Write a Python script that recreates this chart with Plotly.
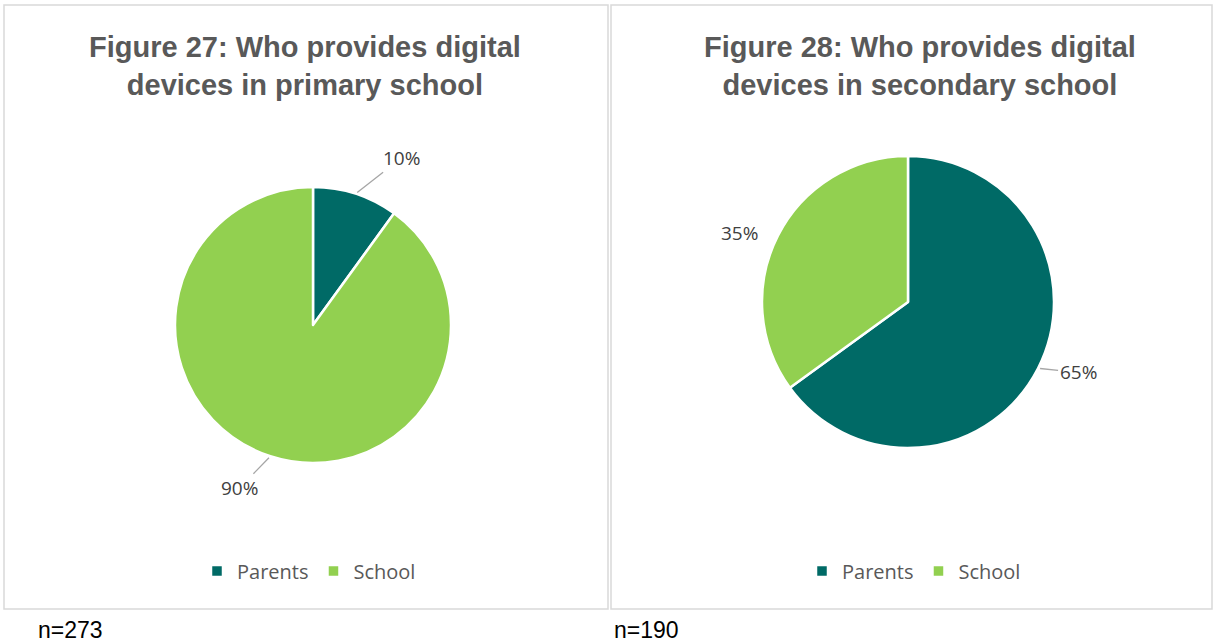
import math
import plotly.graph_objects as go

W, H = 1214, 643

# data
labels = ['Parents', 'School']
primary_values = [10, 90]
secondary_values = [65, 35]
sample_sizes = ['n=273', 'n=190']
titles = ['Figure 27: Who provides digital<br>devices in primary school',
          'Figure 28: Who provides digital<br>devices in secondary school']

colors = ['#006A66', '#92D050']


def px(x):
    return x / W


def py(y):
    return 1 - y / H


# layout of the two chart boxes (pixels)
boxes = [(4, 5, 608, 609), (611, 5, 1212, 609)]
pie_centers = [(313, 325, 138), (908, 302, 146)]
title_x = [305, 920]
legend_x = [309, 914]
# where Excel placed each data label, relative to the slice edge (pixels) and
# whether it drew a leader line
label_style = [
    [(46, -36, True), (-31, 32, True)],
    [(40, 4, True), (-38, -3, False)],
]

fig = go.Figure()
annotations = []
shapes = []

for i, values in enumerate([primary_values, secondary_values]):
    cx, cy, r = pie_centers[i]
    # zero-width suffix keeps the second legend from merging with the first
    names = labels if i == 0 else [l + '\u200b' for l in labels]
    fig.add_trace(go.Pie(
        labels=names,
        values=values,
        sort=False,
        direction='clockwise',
        rotation=0,
        textinfo='none',
        hoverinfo='label+percent',
        marker=dict(colors=colors, line=dict(color='white', width=2.5)),
        domain=dict(x=[px(cx - r), px(cx + r)], y=[py(cy + r), py(cy - r)]),
        legend='legend' if i == 0 else 'legend2',
    ))

    # percentage labels with leader lines
    total = sum(values)
    start = 0
    for j, v in enumerate(values):
        mid = (start + v / 2) / total * 2 * math.pi
        start += v
        ex = cx + r * math.sin(mid)
        ey = cy - r * math.cos(mid)
        dx, dy, leader = label_style[i][j]
        pct = f'{round(v / total * 100)}%'
        if leader:
            annotations.append(dict(
                x=px(ex), y=py(ey), xref='paper', yref='paper',
                text=pct, showarrow=True, arrowhead=0, arrowwidth=1.3,
                arrowcolor='#a6a6a6', ax=dx, ay=dy, standoff=2,
                font=dict(family='Open Sans', size=19, color='#404040'),
            ))
        else:
            annotations.append(dict(
                x=px(ex + dx), y=py(ey + dy), xref='paper', yref='paper',
                text=pct, showarrow=False,
                font=dict(family='Open Sans', size=19, color='#404040'),
            ))

    # title
    annotations.append(dict(
        x=px(title_x[i]), y=py(66), xref='paper', yref='paper',
        xanchor='center', yanchor='middle', showarrow=False,
        text='<b>' + titles[i] + '</b>',
        font=dict(family='Liberation Sans, Arial', size=29, color='#595959'),
    ))

    # n= note below the box
    x0, y0, x1, y1 = boxes[i]
    annotations.append(dict(
        x=px(x0 + 32 if i == 0 else x0 + 1), y=py(630), xref='paper', yref='paper',
        xanchor='left', yanchor='middle', showarrow=False,
        text=sample_sizes[i],
        font=dict(family='Liberation Sans, Arial', size=23, color='#000000'),
    ))

    shapes.append(dict(
        type='rect', xref='paper', yref='paper',
        x0=px(x0), x1=px(x1), y0=py(y1), y1=py(y0),
        line=dict(color='#d9d9d9', width=1.5),
    ))

legend_common = dict(
    orientation='h', xanchor='center', yanchor='middle', y=py(571),
    font=dict(family='Open Sans', size=20, color='#595959'),
    bgcolor='rgba(0,0,0,0)', itemwidth=30,
)

fig.update_layout(
    width=W, height=H,
    margin=dict(l=0, r=0, t=0, b=0),
    paper_bgcolor='white',
    plot_bgcolor='white',
    showlegend=True,
    legend=dict(x=px(legend_x[0]), **legend_common),
    legend2=dict(x=px(legend_x[1]), **legend_common),
    annotations=annotations,
    shapes=shapes,
)

# drop the default page margin so the figure fills the window exactly
fig.write_html('out.html', config={'displayModeBar': False}, post_script=(
    "document.body.style.margin='0';"
    "document.documentElement.style.overflow='hidden';"
))
